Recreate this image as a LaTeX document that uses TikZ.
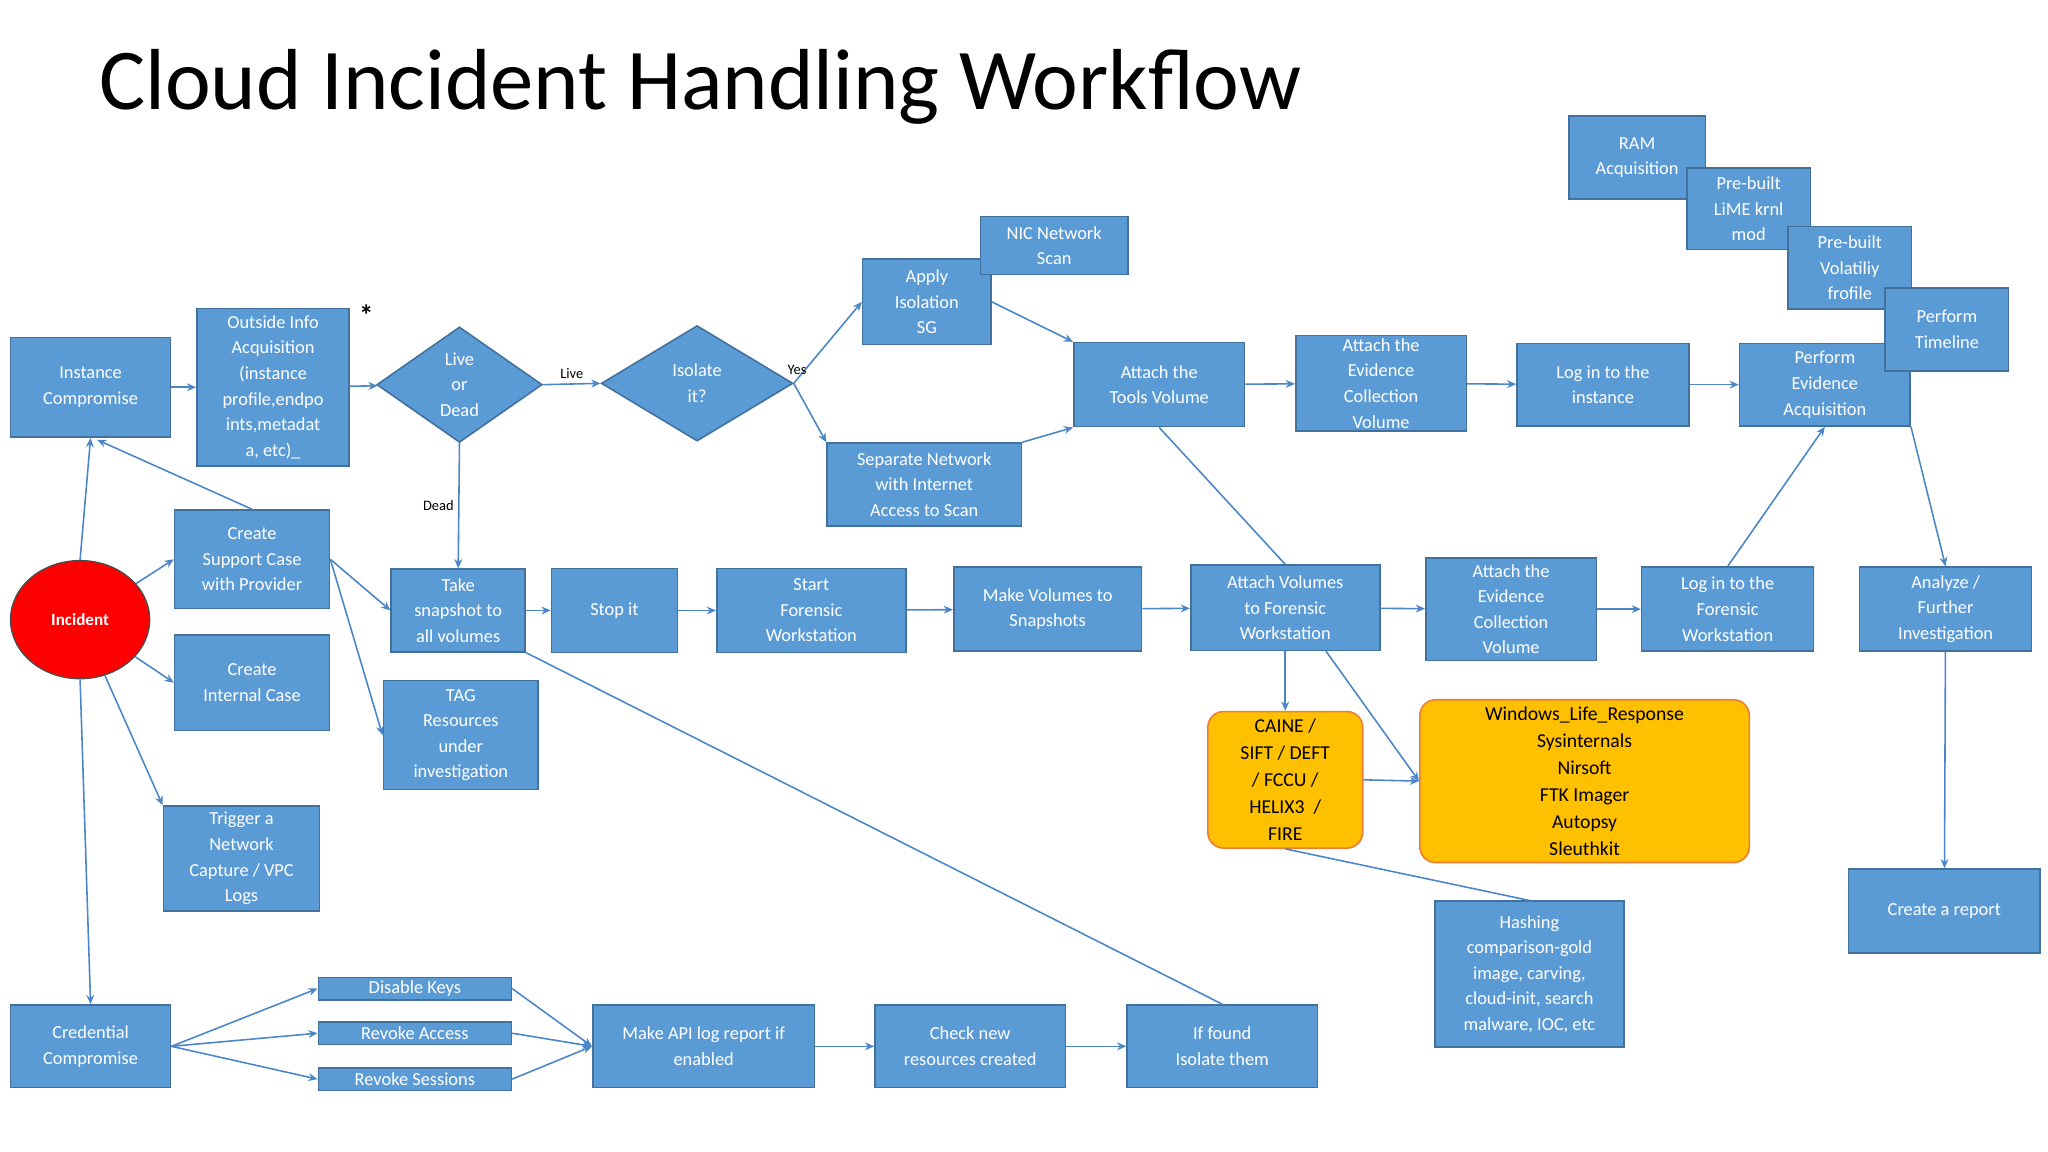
\documentclass[tikz,border=0pt]{standalone}
\usepackage{fontspec}
\setmainfont{Carlito}
\usetikzlibrary{shapes.geometric,arrows.meta}
\definecolor{bfill}{HTML}{5B9BD5}
\definecolor{bline}{HTML}{41719C}
\definecolor{cline}{HTML}{4A86C8}
\definecolor{ofill}{HTML}{FFC000}
\definecolor{oline}{HTML}{ED7D31}
\begin{document}
\begin{tikzpicture}[x=1pt,y=-1pt,
  box/.style={rectangle,draw=bline,line width=1.2pt,fill=bfill,text=white,align=center,inner sep=0pt,font=\fontsize{14}{19.5}\selectfont},
  obox/.style={rectangle,rounded corners=12pt,draw=oline,line width=1.2pt,fill=ofill,text=black,align=center,inner sep=0pt,font=\fontsize{15}{20.5}\selectfont},
  dia/.style={diamond,draw=bline,line width=1.2pt,fill=bfill,text=white,align=center,inner sep=0pt,font=\fontsize{14}{19.5}\selectfont},
  arr/.style={draw=cline,line width=1.2pt,-{Stealth[length=7pt,width=6pt]}},
  ln/.style={draw=cline,line width=1.2pt},
  lab/.style={font=\fontsize{11}{13}\selectfont,text=black}]
\useasboundingbox[fill=white] (0,0) rectangle (1560,877.5);
\node[anchor=west,font=\fontsize{66}{70}\selectfont] (title) at (72,66) {Cloud Incident Handling Workflow};
\node[font=\fontsize{22}{22}\selectfont\bfseries] (star) at (279,240) {*};

\node[box,minimum width=122pt,minimum height=76pt] (inst) at (69,295) {Instance\\Compromise};
\node[box,minimum width=116pt,minimum height=120pt] (out) at (208,295) {Outside Info\\Acquisition\\(instance\\profile,endpo\\ints,metadat\\a, etc)\_};
\node[dia,minimum width=126pt,minimum height=88pt] (live) at (350,293) {Live\\or\\Dead};
\node[dia,minimum width=146pt,minimum height=88pt] (iso) at (531,292) {Isolate\\it?};
\node[box,minimum width=98pt,minimum height=65pt] (apply) at (706,230) {Apply\\Isolation\\SG};
\node[box,minimum width=112pt,minimum height=44pt] (nic) at (803,187) {NIC Network\\Scan};
\node[box,minimum width=148pt,minimum height=63pt] (sep) at (704,369) {Separate Network\\with Internet\\Access to Scan};
\node[box,minimum width=130pt,minimum height=64pt] (tools) at (883,293) {Attach the\\Tools Volume};
\node[box,minimum width=130pt,minimum height=73pt] (ev1) at (1052,292) {Attach the\\Evidence\\Collection\\Volume};
\node[box,minimum width=131pt,minimum height=63pt] (login) at (1221,293) {Log in to the\\instance};
\node[box,minimum width=130pt,minimum height=63pt] (perf) at (1390,293) {Perform\\Evidence\\Acquisition};
\node[box,minimum width=104pt,minimum height=63pt] (ram) at (1247,120) {RAM\\Acquisition};
\node[box,minimum width=94pt,minimum height=62pt] (lime) at (1332,159) {Pre-built\\LiME krnl\\mod};
\node[box,minimum width=94pt,minimum height=63pt] (vol) at (1409,204) {Pre-built\\Volatiliy\\frofile};
\node[box,minimum width=94pt,minimum height=63pt] (time) at (1483,251) {Perform\\Timeline};

\node[ellipse,draw=black!70,line width=1pt,fill=red,text=white,minimum width=106pt,minimum height=90pt,font=\fontsize{13}{15}\selectfont\bfseries] (inc) at (61,472) {Incident};
\node[box,minimum width=118pt,minimum height=75pt] (sup) at (192,426) {Create\\Support Case\\with Provider};
\node[box,minimum width=118pt,minimum height=73pt] (int) at (192,520) {Create\\Internal Case};
\node[box,minimum width=119pt,minimum height=80pt] (trig) at (184,654) {Trigger a\\Network\\Capture / VPC\\Logs};
\node[box,minimum width=122pt,minimum height=63pt] (cred) at (69,797) {Credential\\Compromise};

\node[box,minimum width=102pt,minimum height=63pt] (snap) at (349,465) {Take\\snapshot to\\all volumes};
\node[box,minimum width=118pt,minimum height=83pt] (tag) at (351,560) {TAG\\Resources\\under\\investigation};
\node[box,minimum width=96pt,minimum height=64pt] (stop) at (468,465) {Stop it};
\node[box,minimum width=144pt,minimum height=64pt] (start) at (618,465) {Start\\Forensic\\Workstation};
\node[box,minimum width=143pt,minimum height=64pt] (mkv) at (798,464) {Make Volumes to\\Snapshots};
\node[box,minimum width=144pt,minimum height=65pt] (attv) at (979,463) {Attach Volumes\\to Forensic\\Workstation};
\node[box,minimum width=130pt,minimum height=78pt] (ev2) at (1151,464) {Attach the\\Evidence\\Collection\\Volume};
\node[box,minimum width=131pt,minimum height=64pt] (logf) at (1316,464) {Log in to the\\Forensic\\Workstation};
\node[box,minimum width=131pt,minimum height=64pt] (ana) at (1482,464) {Analyze /\\Further\\Investigation};
\node[obox,minimum width=118pt,minimum height=104pt] (caine) at (979,594) {CAINE /\\SIFT / DEFT\\/ FCCU /\\HELIX3 \ /\\FIRE};
\node[obox,minimum width=251pt,minimum height=124pt] (win) at (1207,595) {Windows\_Life\_Response\\Sysinternals\\Nirsoft\\FTK Imager\\Autopsy\\Sleuthkit};
\node[box,minimum width=144pt,minimum height=111pt] (hash) at (1165,742) {Hashing\\comparison-gold\\image, carving,\\cloud-init, search\\malware, IOC, etc};
\node[box,minimum width=146pt,minimum height=64pt] (rep) at (1481,694) {Create a report};

\node[box,minimum width=147pt,minimum height=17pt] (dk) at (316,753) {Disable Keys};
\node[box,minimum width=147pt,minimum height=17pt] (ra) at (316,787) {Revoke Access};
\node[box,minimum width=147pt,minimum height=17pt] (rs) at (316,822) {Revoke Sessions};
\node[box,minimum width=169pt,minimum height=63pt] (api) at (536,797) {Make API log report if\\enabled};
\node[box,minimum width=145pt,minimum height=63pt] (chk) at (739,797) {Check new\\resources created};
\node[box,minimum width=145pt,minimum height=63pt] (iff) at (931,797) {If found\\Isolate them};

% connectors
\draw[arr] (inst) -- (out);
\draw[arr] (out) -- (live);
\draw[arr] (live.east) -- node[lab,above]{Live} (iso.west);
\draw[arr] (iso.east) -- node[lab,above,pos=0.05]{Yes} (apply.west);
\draw[arr] (iso.east) -- (sep.north west);
\draw[arr] (apply.east) -- (tools.north west);
\draw[arr] (sep.north east) -- (tools.south west);
\draw[arr] (tools) -- (ev1);
\draw[arr] (ev1) -- (login);
\draw[arr] (login) -- (perf);
\draw[arr] (perf.south east) -- (ana.north);
\draw[arr] (live.south) -- node[lab,left,pos=0.5]{Dead} (snap.north);
\draw[arr] (inc.north) -- (inst.south);
\draw[arr] (sup.north) -- (74,335);
\draw[arr] (inc) -- (sup.west);
\draw[arr] (inc) -- (int.west);
\draw[arr] (inc) -- (trig.north west);
\draw[arr] (inc.south) -- (cred.north);
\draw[arr] (sup.east) -- (snap.west);
\draw[arr] (sup.east) -- (tag.west);
\draw[arr] (snap) -- (stop);
\draw[arr] (stop) -- (start);
\draw[arr] (start) -- (mkv);
\draw[arr] (mkv) -- (attv);
\draw[arr] (attv) -- (ev2);
\draw[arr] (ev2) -- (logf);
\draw[arr] (logf.north) -- (perf.south);
\draw[ln] (tools.south) -- (attv.north);
\draw[arr] (attv.south) -- (caine.north);
\draw[arr] (1010,496) -- (win.west);
\draw[arr] (caine.east) -- (win.west);
\draw[ln] (caine.south) -- (hash.north);
\draw[arr] (ana) -- (rep);
\draw[arr] (cred.east) -- (dk.west);
\draw[arr] (cred.east) -- (ra.west);
\draw[arr] (cred.east) -- (rs.west);
\draw[arr] (dk.east) -- (api.west);
\draw[arr] (ra.east) -- (api.west);
\draw[arr] (rs.east) -- (api.west);
\draw[arr] (api) -- (chk);
\draw[arr] (chk) -- (iff);
\draw[ln] (snap.south east) -- (iff.north);
\end{tikzpicture}
\end{document}
